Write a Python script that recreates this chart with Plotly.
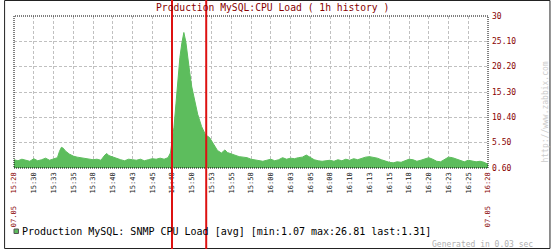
import plotly.graph_objects as go

# ---- data ----
minutes = [0, 0.5, 1, 1.5, 2, 2.5, 3, 3.5, 4, 4.5, 5, 5.5, 5.75, 6, 6.25, 6.5, 7, 7.5, 8, 8.5,
           9, 9.5, 10, 10.5, 11, 11.5, 11.75, 12, 12.5, 13, 13.5, 14, 14.5, 15, 15.5, 16, 16.5,
           17, 17.5, 18, 18.5, 19, 19.5, 19.8, 20, 20.25, 20.5, 20.75, 21, 21.25, 21.5, 21.75,
           22, 22.25, 22.5, 22.9, 23.25, 23.75, 24.25, 24.75, 25.25, 25.75, 26.25, 26.7, 27,
           27.5, 28, 28.5, 29, 29.5, 30, 30.5, 31, 31.5, 32, 32.5, 33, 33.5, 34, 34.5, 35, 35.5,
           36, 36.5, 37, 37.5, 38, 38.5, 39, 39.5, 40, 40.5, 41, 41.5, 42, 42.5, 43, 43.5, 44,
           44.5, 45, 45.5, 46, 46.5, 47, 47.5, 48, 48.5, 49, 49.5, 50, 50.5, 51, 51.5, 52, 52.5,
           53, 53.5, 54, 54.5, 55, 55.5, 56, 56.5, 57, 57.5, 58, 58.5, 59, 59.5, 60]
cpu_load = [2.2, 2.0, 2.3, 2.1, 1.9, 2.4, 2.0, 2.2, 2.5, 2.1, 2.3, 2.6, 3.8, 4.6, 4.4, 3.9, 3.3, 2.9, 2.7, 2.6,
            2.5, 2.4, 2.2, 2.3, 2.1, 3.1, 3.4, 3.0, 2.7, 2.4, 2.2, 2.0, 2.3, 2.2, 2.1, 2.3, 2.0,
            2.2, 2.4, 2.3, 2.5, 2.3, 2.6, 3.5, 6.0, 8.5, 13.0, 18.0, 22.0, 24.8, 26.81, 25.0,
            21.5, 19.0, 16.3, 13.5, 11.0, 8.6, 7.0, 6.5, 5.3, 4.0, 3.5, 4.1, 3.6,
            3.3, 3.0, 2.8, 2.7, 2.6, 2.3, 2.2, 2.0, 1.9, 2.1, 2.3, 2.0, 2.2, 2.6, 2.3, 2.5, 2.4,
            2.6, 2.7, 3.1, 2.6, 2.2, 2.0, 1.9, 2.0, 2.1, 1.9, 2.2, 2.0, 2.3, 2.1, 2.4, 2.2, 2.5,
            2.7, 2.8, 2.7, 2.5, 2.2, 1.9, 1.7, 1.6, 1.8, 1.7, 2.0, 2.3, 2.2, 1.9, 2.1, 2.4, 2.6,
            2.3, 1.9, 1.8, 2.3, 2.7, 2.6, 2.3, 2.0, 1.8, 2.1, 2.0, 1.8, 1.9, 1.7, 1.31]

x_tick_vals = [i * 2.5 for i in range(25)]
x_tick_labels = ["07.05\u00a0\u00a0\u00a015:28", "15:30", "15:33", "15:35", "15:38", "15:40", "15:43",
                 "15:45", "15:48", "15:50", "15:53", "15:55", "15:58", "16:00", "16:03", "16:05",
                 "16:08", "16:10", "16:13", "16:15", "16:18", "16:20", "16:23", "16:25",
                 "07.05\u00a0\u00a0\u00a016:28"]
y_tick_vals = [0.6, 5.5, 10.4, 15.3, 20.2, 25.1, 30]
y_tick_labels = ["0.60", "5.50", "10.40", "15.30", "20.20", "25.10", "30"]
marker_minutes = [20.0, 24.33]

title_text = "Production MySQL:CPU Load ( 1h history )"
legend_text = "Production MySQL: SNMP CPU Load [avg] [min:1.07 max:26.81 last:1.31]"

# ---- geometry ----
W, H = 551, 249
L, R, T, B = 10, 63, 16, 81
PW, PH = W - L - R, H - T - B


def px(x):
    return (x - L) / PW


def py(y):
    return (H - B - y) / PH


DARKRED = "#880000"
GREEN = "#5dbd5d"
MONO = "DejaVu Sans Mono"

ticktext = []
for i, t in enumerate(x_tick_labels):
    if i == 0 or i == len(x_tick_labels) - 1:
        ticktext.append('<span style="color:%s">%s</span>' % (DARKRED, t))
    else:
        ticktext.append(t)

fig = go.Figure()
fig.add_trace(go.Scatter(
    x=minutes, y=cpu_load, mode="lines", fill="tozeroy",
    line=dict(color=GREEN, width=1), fillcolor=GREEN, hoverinfo="skip",
))

fig.update_layout(
    width=W, height=H,
    margin=dict(l=L, r=R, t=T, b=B, pad=0),
    paper_bgcolor="white", plot_bgcolor="white",
    showlegend=False,
    xaxis=dict(
        range=[0, 60], tickmode="array", tickvals=x_tick_vals, ticktext=ticktext,
        tickangle=-90, tickfont=dict(family=MONO, size=7, color="#222222"),
        showgrid=True, gridcolor="#c0c0c0", griddash="3px,2px", gridwidth=1,
        zeroline=False, showline=False, ticks="", ticklabelstandoff=2,
        fixedrange=True,
    ),
    yaxis=dict(
        range=[0.6, 30], tickmode="array", tickvals=y_tick_vals, ticktext=y_tick_labels,
        side="right", tickfont=dict(family=MONO, size=8, color=DARKRED),
        showgrid=True, gridcolor="#c0c0c0", griddash="3px,2px", gridwidth=1,
        zeroline=False, showline=False, ticks="", ticklabelstandoff=3,
        fixedrange=True,
    ),
)

shapes = []
# dotted plot-area border
shapes.append(dict(type="rect", xref="paper", yref="paper", x0=0, x1=1, y0=0, y1=1,
                   line=dict(color="black", width=1, dash="1px,1px"), layer="above"))
# outer image frame
shapes.append(dict(type="rect", xref="paper", yref="paper",
                   x0=px(0.5), x1=px(W - 0.5), y0=py(H - 0.5), y1=py(0.5),
                   line=dict(color="#222222", width=1), layer="above"))
# legend colour square
shapes.append(dict(type="rect", xref="paper", yref="paper",
                   x0=px(10), x1=px(14.5), y0=py(233.5), y1=py(229),
                   fillcolor=GREEN, line=dict(color="#555555", width=1), layer="above"))
# red vertical markers spanning whole image
for m in marker_minutes:
    shapes.append(dict(type="line", xref="x", yref="paper", x0=m, x1=m,
                       y0=py(H), y1=py(0), line=dict(color="#dd1111", width=2), layer="above"))
fig.update_layout(shapes=shapes)

annotations = [
    dict(text=title_text, xref="paper", yref="paper", x=px(271), y=py(7.5),
         xanchor="center", yanchor="middle", showarrow=False,
         font=dict(family=MONO, size=9.7, color=DARKRED)),
    dict(text=legend_text, xref="paper", yref="paper", x=px(16), y=py(231.5),
         xanchor="left", yanchor="middle", showarrow=False,
         font=dict(family=MONO, size=10, color="black")),
    dict(text="Generated in 0.03 sec", xref="paper", yref="paper", x=px(430), y=py(244),
         xanchor="left", yanchor="middle", showarrow=False,
         font=dict(family=MONO, size=8, color="#b0b0b0")),
    dict(text="http://www.zabbix.com", xref="paper", yref="paper", x=px(545), y=py(112),
         xanchor="center", yanchor="middle", showarrow=False, textangle=-90,
         font=dict(family=MONO, size=8, color="#cccccc")),
]
fig.update_layout(annotations=annotations)

fig.write_html("out.html")
